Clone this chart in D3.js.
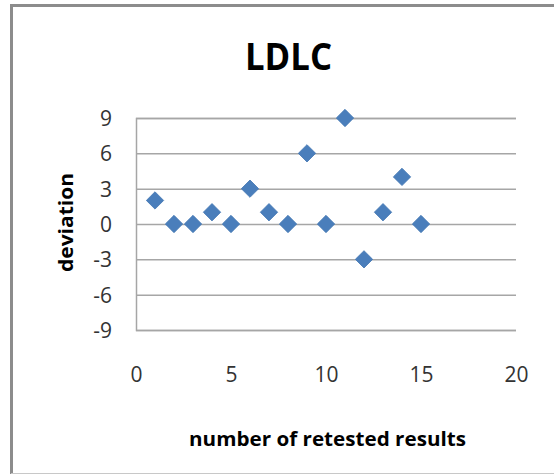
<!DOCTYPE html>
<html>
<head>
<meta charset="utf-8">
<script src="https://cdn.jsdelivr.net/npm/d3@7/dist/d3.min.js"></script>
<style>
  html, body { margin: 0; padding: 0; background: #fff; }
  svg { display: block; }
</style>
</head>
<body>
<svg id="chart" width="554" height="475"></svg>
<script>
// Retest deviations for LDLC
const retestNumber = [1, 2, 3, 4, 5, 6, 7, 8, 9, 10, 11, 12, 13, 14, 15];
const deviation    = [2, 0, 0, 1, 0, 3, 1, 0, 6, 0, 9, -3, 1, 4, 0];
const xTicks = [0, 5, 10, 15, 20];
const yTicks = [-9, -6, -3, 0, 3, 6, 9];

const svg = d3.select("#chart");
const W = 554, H = 475;

// chart frame
svg.append("rect").attr("x", 0).attr("y", 0).attr("width", W).attr("height", H).attr("fill", "#fff");
svg.append("line").attr("x1", 11.5).attr("x2", W).attr("y1", 5.5).attr("y2", 5.5)
  .attr("stroke", "#8c8c8c").attr("stroke-width", 3);
svg.append("line").attr("x1", 11.5).attr("x2", 11.5).attr("y1", 4).attr("y2", 474)
  .attr("stroke", "#8c8c8c").attr("stroke-width", 3);
svg.append("line").attr("x1", 11).attr("x2", W).attr("y1", 473.5).attr("y2", 473.5)
  .attr("stroke", "#c8c8c8").attr("stroke-width", 1);

const x = d3.scaleLinear().domain([0, 20]).range([136, 516]);
const y = d3.scaleLinear().domain([-9, 9]).range([330, 118]);

// plain hyphen for negative labels
const plain = d => String(d);

// horizontal gridlines
const yAxis = d3.axisLeft(y).tickValues(yTicks).tickSize(-(x(20) - x(0))).tickPadding(24)
  .tickFormat(plain);
const gy = svg.append("g").attr("transform", `translate(${x(0)},0)`).call(yAxis);
gy.select(".domain").attr("stroke", "#a6a6a6").attr("stroke-width", 1.5);
gy.selectAll(".tick line").attr("stroke", "#a6a6a6").attr("stroke-width", 1.5);
gy.selectAll(".tick text")
  .attr("font-family", "'Open Sans', sans-serif").attr("font-size", 21)
  .attr("fill", "#333").attr("dy", "0.36em");

// horizontal axis labels (no axis line of its own; the -9 gridline closes the plot)
const xAxis = d3.axisBottom(x).tickValues(xTicks).tickSize(0).tickPadding(0).tickFormat(plain);
const gx = svg.append("g").attr("transform", `translate(0,${y(-9)})`).call(xAxis);
gx.select(".domain").remove();
gx.selectAll(".tick text")
  .attr("font-family", "'Open Sans', sans-serif").attr("font-size", 21)
  .attr("fill", "#333").attr("dy", 0).attr("y", 52);

// diamond markers
const diamond = d3.symbol().type(d3.symbolSquare).size(150);
svg.append("g").selectAll("path")
  .data(retestNumber.map((n, i) => ({ n, v: deviation[i] })))
  .join("path")
  .attr("d", diamond)
  .attr("transform", d => `translate(${x(d.n)},${y(d.v)}) rotate(45)`)
  .attr("fill", "#4a7ebb")
  .attr("stroke", "#4678b4")
  .attr("stroke-width", 0.8);

// titles
svg.append("text")
  .attr("x", 288.5).attr("y", 70)
  .attr("text-anchor", "middle")
  .attr("font-family", "'Open Sans', sans-serif").attr("font-weight", "bold")
  .attr("font-size", 38).attr("fill", "#000")
  .attr("textLength", 87).attr("lengthAdjust", "spacingAndGlyphs")
  .text("LDLC");

svg.append("text")
  .attr("transform", "translate(73,222.5) rotate(-90)")
  .attr("text-anchor", "middle")
  .attr("font-family", "'Open Sans', sans-serif").attr("font-weight", "bold")
  .attr("font-size", 19).attr("fill", "#000")
  .attr("textLength", 99).attr("lengthAdjust", "spacingAndGlyphs")
  .text("deviation");

svg.append("text")
  .attr("x", 327.5).attr("y", 445.5)
  .attr("text-anchor", "middle")
  .attr("font-family", "'Open Sans', sans-serif").attr("font-weight", "bold")
  .attr("font-size", 19).attr("fill", "#000")
  .attr("textLength", 277).attr("lengthAdjust", "spacingAndGlyphs")
  .text("number of retested results");
</script>
</body>
</html>
